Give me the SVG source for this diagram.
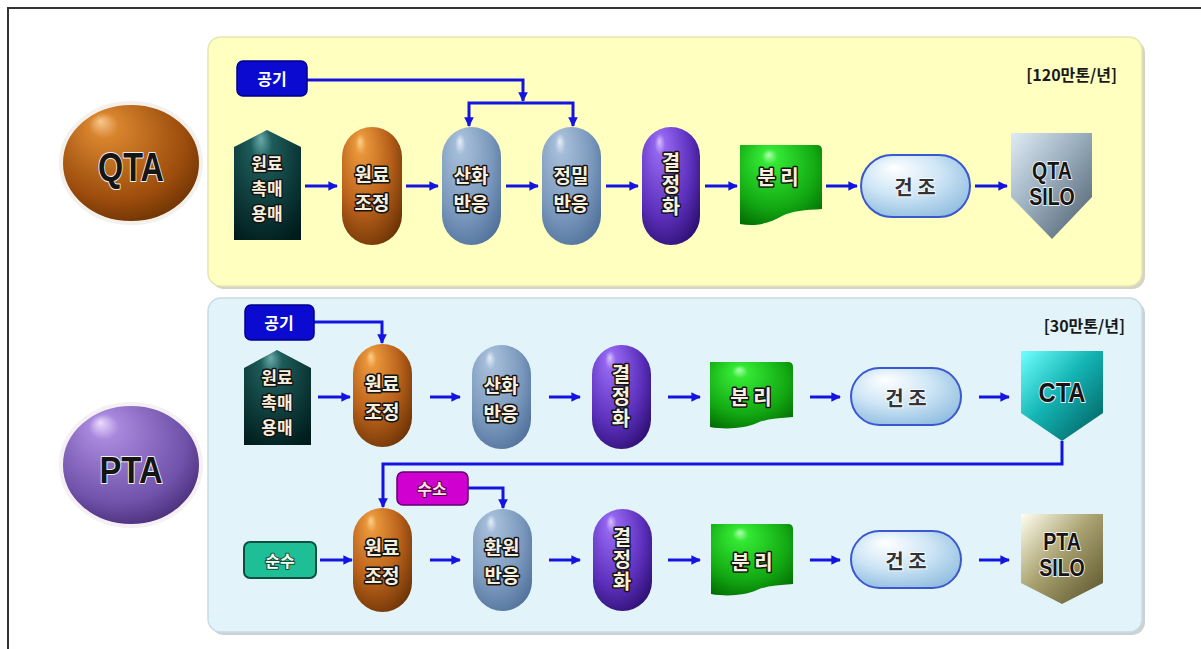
<svg xmlns="http://www.w3.org/2000/svg" width="1201" height="649" viewBox="0 0 1201 649">
<defs>
<style>
.lt{font-family:"Noto Sans CJK KR","Noto Sans",sans-serif;font-weight:bold;font-size:19px;fill:#f6efdd;stroke:#151515;stroke-width:3;paint-order:stroke;stroke-linejoin:round;text-anchor:middle;dominant-baseline:central}
.sm{font-size:17px}
.vt{font-family:"Noto Sans CJK KR","Noto Sans",sans-serif;font-weight:bold;font-size:20px;fill:#f6efdd;stroke:#151515;stroke-width:3;paint-order:stroke;stroke-linejoin:round;text-anchor:middle;writing-mode:vertical-rl;letter-spacing:2px}
.dk{font-family:"Noto Sans CJK KR","Noto Sans",sans-serif;font-weight:bold;font-size:20px;fill:#333;stroke:#f4f8ff;stroke-width:2;paint-order:stroke;text-anchor:middle;dominant-baseline:central}
.en{font-family:"Liberation Sans",Arial,sans-serif;font-weight:bold;fill:#151515;stroke:#f0f0f0;stroke-width:2;paint-order:stroke;stroke-linejoin:round;text-anchor:middle;dominant-baseline:central}
.tag{font-family:"Noto Sans CJK KR","Noto Sans",sans-serif;font-weight:bold;font-size:16px;fill:#fff;text-anchor:middle;dominant-baseline:central}
.cap{font-family:"Noto Sans CJK KR","Liberation Sans",sans-serif;font-weight:bold;font-size:16px;fill:#1a1a1a;text-anchor:end}
.ar{fill:none;stroke:#1414e0;stroke-width:3;marker-end:url(#ah)}
</style>
<marker id="ah" viewBox="0 0 10 10" refX="9" refY="5" markerWidth="3.2" markerHeight="3.2" orient="auto" markerUnits="strokeWidth">
<path d="M0,0 L10,5 L0,10 Z" fill="#1414e0"/>
</marker>
<radialGradient id="gBrown" cx="0.4" cy="0.35" r="0.75" fx="0.3" fy="0.12"><stop offset="0" stop-color="#fbd08a"/><stop offset="0.12" stop-color="#e8953a"/><stop offset="0.6" stop-color="#b8601a"/><stop offset="1" stop-color="#6a3204"/></radialGradient>
<radialGradient id="gSlate" cx="0.4" cy="0.35" r="0.75" fx="0.3" fy="0.12"><stop offset="0" stop-color="#e4eef8"/><stop offset="0.12" stop-color="#a4bcd8"/><stop offset="0.65" stop-color="#7a98bc"/><stop offset="1" stop-color="#50709a"/></radialGradient>
<radialGradient id="gPurp" cx="0.4" cy="0.35" r="0.75" fx="0.3" fy="0.12"><stop offset="0" stop-color="#d8c0ff"/><stop offset="0.12" stop-color="#9466f0"/><stop offset="0.65" stop-color="#5c30bc"/><stop offset="1" stop-color="#2c0e70"/></radialGradient>
<radialGradient id="gGreen" cx="0.45" cy="0.35" r="0.8" fx="0.35" fy="0.12"><stop offset="0" stop-color="#b0ffb0"/><stop offset="0.12" stop-color="#34e834"/><stop offset="0.65" stop-color="#12a812"/><stop offset="1" stop-color="#006400"/></radialGradient>
<radialGradient id="gTeal" cx="0.45" cy="0.3" r="0.8" fx="0.4" fy="0.08"><stop offset="0" stop-color="#6aaaa8"/><stop offset="0.2" stop-color="#1c5c5a"/><stop offset="1" stop-color="#001c1c"/></radialGradient>
<radialGradient id="gDry" cx="0.45" cy="0.4" r="0.7" fx="0.3" fy="0.2"><stop offset="0" stop-color="#ffffff"/><stop offset="0.5" stop-color="#cfe6f6"/><stop offset="1" stop-color="#8cbadd"/></radialGradient>
<linearGradient id="gSilo" x1="0" y1="0" x2="1" y2="1"><stop offset="0" stop-color="#e0ecf4"/><stop offset="0.45" stop-color="#9aaebe"/><stop offset="1" stop-color="#4a5a68"/></linearGradient>
<linearGradient id="gCta" x1="0" y1="0" x2="1" y2="1"><stop offset="0" stop-color="#70ffff"/><stop offset="0.45" stop-color="#14b4b4"/><stop offset="1" stop-color="#005858"/></linearGradient>
<linearGradient id="gPsilo" x1="0" y1="0" x2="1" y2="1"><stop offset="0" stop-color="#fffff0"/><stop offset="0.45" stop-color="#aaa270"/><stop offset="1" stop-color="#565028"/></linearGradient>
<radialGradient id="gQta" cx="0.45" cy="0.4" r="0.7" fx="0.28" fy="0.15"><stop offset="0" stop-color="#f8c890"/><stop offset="0.15" stop-color="#d8842e"/><stop offset="0.7" stop-color="#9c4c0c"/><stop offset="1" stop-color="#5c2a02"/></radialGradient>
<radialGradient id="gPta" cx="0.45" cy="0.4" r="0.7" fx="0.28" fy="0.15"><stop offset="0" stop-color="#ecdcff"/><stop offset="0.15" stop-color="#a888dc"/><stop offset="0.7" stop-color="#7052aa"/><stop offset="1" stop-color="#3c2268"/></radialGradient>
</defs>

<rect x="8" y="8" width="1210" height="660" fill="#fff" stroke="#333" stroke-width="2"/>

<g id="panel-qta">
<rect x="211" y="40" width="934" height="249" rx="13" fill="#b8b8a0" opacity="0.6"/>
<rect x="208" y="37" width="934" height="249" rx="13" fill="#ffffc0" stroke="#e6e6b0" stroke-width="1.5"/>
<text class="cap" x="1117" y="81">[120만톤/년]</text>
</g>
<g id="panel-pta">
<rect x="211" y="301" width="934" height="334" rx="13" fill="#a8b4b8" opacity="0.6"/>
<rect x="208" y="298" width="934" height="334" rx="13" fill="#e3f3fa" stroke="#c8dce4" stroke-width="1.5"/>
<text class="cap" x="1125" y="332">[30만톤/년]</text>
</g>

<g id="qta-label">
<ellipse cx="131" cy="163" rx="70" ry="60" fill="url(#gQta)" stroke="#f4f0ec" stroke-width="4"/>
<text class="en" x="131" y="167" font-size="40" textLength="66" lengthAdjust="spacingAndGlyphs">QTA</text>
</g>
<g id="pta-label">
<ellipse cx="131" cy="465" rx="70" ry="61" fill="url(#gPta)" stroke="#f4f0f4" stroke-width="4"/>
<text class="en" x="131" y="470" font-size="36" textLength="63" lengthAdjust="spacingAndGlyphs">PTA</text>
</g>

<g id="connectors">
<path class="ar" d="M307,80 H523 V101"/>
<path class="ar" d="M523,103 H469 V126"/>
<path class="ar" d="M523,103 H573 V126"/>
<path class="ar" d="M305,186 H337"/>
<path class="ar" d="M406,186 H438"/>
<path class="ar" d="M506,186 H538"/>
<path class="ar" d="M606,186 H638"/>
<path class="ar" d="M705,186 H737"/>
<path class="ar" d="M826,186 H857"/>
<path class="ar" d="M975,186 H1007"/>

<path class="ar" d="M314,322 H382 V343"/>
<path class="ar" d="M318,397 H350"/>
<path class="ar" d="M430,397 H460"/>
<path class="ar" d="M549,397 H580"/>
<path class="ar" d="M668,397 H700"/>
<path class="ar" d="M810,397 H840"/>
<path class="ar" d="M979,397 H1009"/>
<path class="ar" d="M1062,441 V464 H383 V507"/>

<path class="ar" d="M468,488 H503 V508"/>
<path class="ar" d="M320,560 H352"/>
<path class="ar" d="M430,560 H460"/>
<path class="ar" d="M549,560 H580"/>
<path class="ar" d="M668,560 H700"/>
<path class="ar" d="M810,560 H840"/>
<path class="ar" d="M979,560 H1009"/>
</g>

<!-- QTA row -->
<g id="q-air">
<rect x="237" y="61" width="70" height="35" rx="6" fill="#0a0ad0" stroke="#000088" stroke-width="1.5"/>
<text class="tag" x="272" y="78">공기</text>
</g>
<g id="q-feed">
<polygon points="234,147 267,130 301,147 301,240 234,240" fill="url(#gTeal)"/>
<text class="lt sm" x="267" y="162"><tspan x="267" y="162">원료</tspan><tspan x="267" dy="25">촉매</tspan><tspan x="267" dy="25">용매</tspan></text>
</g>
<g id="q-prep">
<rect x="342" y="127" width="60" height="118" rx="30" fill="url(#gBrown)"/>
<text class="lt" x="372" y="173"><tspan x="372" y="173">원료</tspan><tspan x="372" dy="28">조정</tspan></text>
</g>
<g id="q-ox">
<rect x="442" y="127" width="59" height="118" rx="29.5" fill="url(#gSlate)"/>
<text class="lt" x="471" y="174"><tspan x="471" y="174">산화</tspan><tspan x="471" dy="28">반응</tspan></text>
</g>
<g id="q-fine">
<rect x="542" y="127" width="59" height="118" rx="29.5" fill="url(#gSlate)"/>
<text class="lt" x="571" y="174"><tspan x="571" y="174">정밀</tspan><tspan x="571" dy="28">반응</tspan></text>
</g>
<g id="q-cryst">
<rect x="642" y="127" width="58" height="118" rx="29" fill="url(#gPurp)"/>
<text class="vt" x="671" y="185">결정화</text>
</g>
<g id="q-sep">
<path d="M740,145 H817 Q822,145 822,150 V209 C805,210 792,211 782,216 C770,223 756,227 740,224 Z" fill="url(#gGreen)"/>
<text class="lt" x="778" y="176" style="font-size:20px">분 리</text>
</g>
<g id="q-dry">
<rect x="861" y="155" width="109" height="62" rx="31" fill="url(#gDry)" stroke="#3a58d0" stroke-width="2"/>
<text class="dk" x="915" y="186">건 조</text>
</g>
<g id="q-silo">
<polygon points="1011,133 1092,133 1092,197 1052,239 1011,197" fill="url(#gSilo)"/>
<text class="en" font-size="23" transform="translate(1052,0) scale(0.85,1)" x="0" y="171"><tspan x="0" y="171">QTA</tspan><tspan x="0" dy="26">SILO</tspan></text>
</g>

<!-- PTA row 1 -->
<g id="p-air">
<rect x="245" y="305" width="69" height="35" rx="6" fill="#0a0ad0" stroke="#000088" stroke-width="1.5"/>
<text class="tag" x="279" y="322">공기</text>
</g>
<g id="p-feed">
<polygon points="244,368 277,350 311,368 311,445 244,445" fill="url(#gTeal)"/>
<text class="lt sm" x="277" y="376"><tspan x="277" y="376">원료</tspan><tspan x="277" dy="25">촉매</tspan><tspan x="277" dy="25">용매</tspan></text>
</g>
<g id="p-prep1">
<rect x="353" y="344" width="59" height="103" rx="29.5" fill="url(#gBrown)"/>
<text class="lt" x="382" y="382"><tspan x="382" y="382">원료</tspan><tspan x="382" dy="28">조정</tspan></text>
</g>
<g id="p-ox">
<rect x="472" y="345" width="59" height="104" rx="29.5" fill="url(#gSlate)"/>
<text class="lt" x="501" y="384"><tspan x="501" y="384">산화</tspan><tspan x="501" dy="28">반응</tspan></text>
</g>
<g id="p-cryst1">
<rect x="592" y="345" width="59" height="104" rx="29.5" fill="url(#gPurp)"/>
<text class="vt" x="621" y="397">결정화</text>
</g>
<g id="p-sep1">
<path d="M710,362 H788 Q793,362 793,367 V417 C778,418 766,419 757,423 C746,428 727,430 710,427 Z" fill="url(#gGreen)"/>
<text class="lt" x="751" y="396" style="font-size:20px">분 리</text>
</g>
<g id="p-dry1">
<rect x="851" y="368" width="110" height="57" rx="28.5" fill="url(#gDry)" stroke="#3a58d0" stroke-width="2"/>
<text class="dk" x="906" y="397">건 조</text>
</g>
<g id="p-cta">
<polygon points="1021,351 1103,351 1103,413 1062,441 1021,413" fill="url(#gCta)"/>
<text class="en" x="1062" y="392" font-size="28" textLength="47" lengthAdjust="spacingAndGlyphs">CTA</text>
</g>

<!-- PTA row 2 -->
<g id="p-h2">
<rect x="397" y="472" width="71" height="33" rx="6" fill="#d000d0" stroke="#600070" stroke-width="1.5"/>
<text class="lt" x="432" y="488" style="font-size:16px;fill:#ffe0e8;stroke:#500040;stroke-width:2">수소</text>
</g>
<g id="p-water">
<rect x="244" y="542" width="72" height="36" rx="6" fill="#1ebf96" stroke="#0a5040" stroke-width="2"/>
<text class="lt" x="280" y="560" style="font-size:16px;fill:#f4fff4;stroke:#134a3a;stroke-width:2">순수</text>
</g>
<g id="p-prep2">
<rect x="353" y="508" width="59" height="104" rx="29.5" fill="url(#gBrown)"/>
<text class="lt" x="382" y="546"><tspan x="382" y="546">원료</tspan><tspan x="382" dy="28">조정</tspan></text>
</g>
<g id="p-red">
<rect x="473" y="509" width="59" height="102" rx="29.5" fill="url(#gSlate)"/>
<text class="lt" x="502" y="546"><tspan x="502" y="546">환원</tspan><tspan x="502" dy="28">반응</tspan></text>
</g>
<g id="p-cryst2">
<rect x="593" y="509" width="59" height="102" rx="29.5" fill="url(#gPurp)"/>
<text class="vt" x="622" y="560">결정화</text>
</g>
<g id="p-sep2">
<path d="M711,524 H788 Q793,524 793,529 V584 C778,585 766,586 757,590 C746,595 728,597 711,594 Z" fill="url(#gGreen)"/>
<text class="lt" x="752" y="561" style="font-size:20px">분 리</text>
</g>
<g id="p-dry2">
<rect x="851" y="531" width="110" height="57" rx="28.5" fill="url(#gDry)" stroke="#3a58d0" stroke-width="2"/>
<text class="dk" x="906" y="560">건 조</text>
</g>
<g id="p-silo">
<polygon points="1021,514 1103,514 1103,583 1062,604 1021,583" fill="url(#gPsilo)"/>
<text class="en" font-size="23" transform="translate(1062,0) scale(0.85,1)" x="0" y="542"><tspan x="0" y="542">PTA</tspan><tspan x="0" dy="26">SILO</tspan></text>
</g>
</svg>
